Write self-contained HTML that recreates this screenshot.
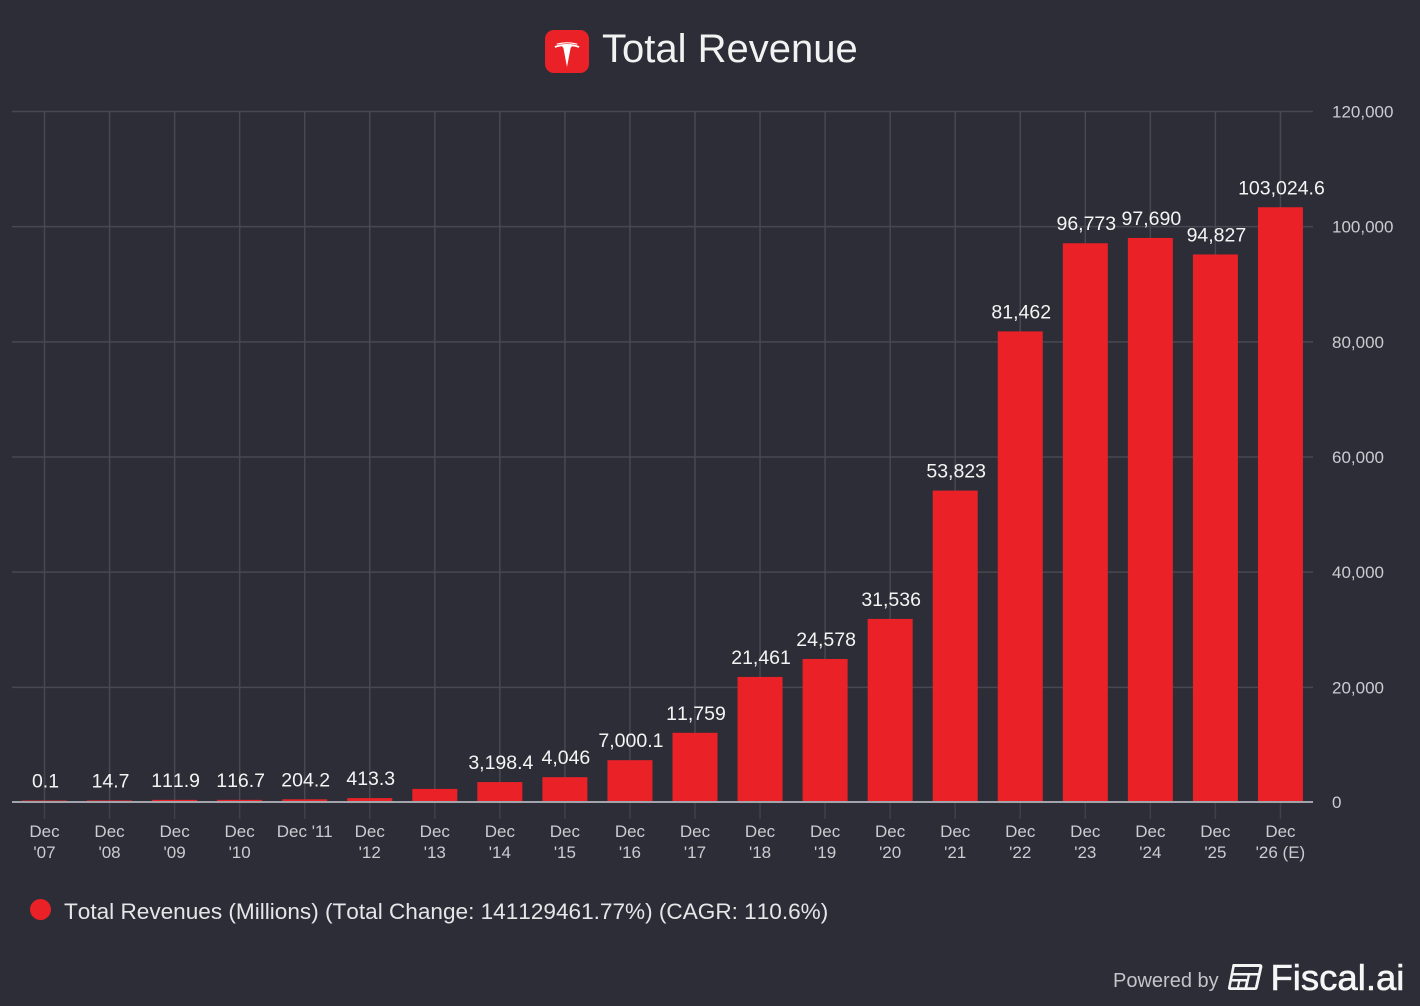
<!DOCTYPE html>
<html lang="en">
<head>
<meta charset="utf-8">
<title>Total Revenue</title>
<style>
html,body{margin:0;padding:0;width:1420px;height:1006px;background:#2c2d36;overflow:hidden}
svg{display:block;font-family:"Liberation Sans",Arial,sans-serif}
.nk{font-kerning:none}
</style>
</head>
<body>
<svg id="chart" width="1420" height="1006" viewBox="0 0 1420 1006" xmlns="http://www.w3.org/2000/svg">
  <rect width="1420" height="1006" fill="#2c2d36"/>
  <g>
    <rect x="545" y="30" width="44" height="43" rx="9" fill="#ea2227"/>
    <path d="M554.500 46.200c7-2.900 18-2.900 25 0l-.9 1.700c-2-1-4.200-1.500-6.600-1.700l-1.400 1.800-3.600 19-3.600-19-1.400-1.800c-2.400.2-4.600.7-6.600 1.700z" fill="#fff"/>
    <path d="M556.500 43.800c6.500-2.100 14.500-2.100 21 0l-.6.9c-6.200-1.700-13.600-1.700-19.800 0z" fill="#fff"/>
  </g>
  <text x="602" y="62" font-size="40" fill="#f2f2f2">Total Revenue</text>
  <g id="grid"></g>
  <g id="bars"></g>
  <line x1="12" x2="1313" y1="802" y2="802" stroke="#a3a3ab" stroke-width="2"/>
  <g id="value-labels"></g>
  <g id="y-ticks"></g>
  <g id="x-ticks"></g>
  <g>
    <circle cx="40.500" cy="909.500" r="10.500" fill="#ea2227"/>
    <text class="nk" x="64" y="919" font-size="22.580" fill="#e6e6e8">Total Revenues (Millions) (Total Change: 141129461.77%) (CAGR: 110.6%)</text>
  </g>
  <g>
    <text x="1113" y="987" font-size="20" fill="#c4c4c9">Powered by</text>
    <g>
      <path d="M1233 964h27a2.500 2.500 0 0 1 2.400 3l-4.600 20.500a3 3 0 0 1-3 2.500h-24.800a2 2 0 0 1-2-2.400l4.200-21.400a2.500 2.500 0 0 1 .8-2.200z" fill="#f4f4f4"/>
      <path d="M1234.700 967h24.600l-1.200 6h-24.600zM1233 975.500h14.500l-.6 3.500h-14.600zM1250 975.500h7.500l-2.600 11.700h-7.500zM1231.800 981.500h6.200l-1.100 5.700h-6.200zM1240.300 981.500h5.500l-1.200 5.700h-5.500z" fill="#2c2d36"/>
    </g>
    <text x="1270.500" y="990" font-size="36.500" fill="#f6f6f6" stroke="#f6f6f6" stroke-width="0.600">Fiscal.ai</text>
  </g>
</svg>
<script>
const categoryLine1 = ["Dec","Dec","Dec","Dec","Dec '11","Dec","Dec","Dec","Dec","Dec","Dec","Dec","Dec","Dec","Dec","Dec","Dec","Dec","Dec","Dec"];
const categoryLine2 = ["'07","'08","'09","'10","","'12","'13","'14","'15","'16","'17","'18","'19","'20","'21","'22","'23","'24","'25","'26 (E)"];
const revenueValues = [0.1,14.7,111.9,116.7,204.2,413.3,2013.5,3198.4,4046,7000.1,11759,21461,24578,31536,53823,81462,96773,97690,94827,103024.6];
const valueLabels = ["0.1","14.7","111.9","116.7","204.2","413.3","","3,198.4","4,046","7,000.1","11,759","21,461","24,578","31,536","53,823","81,462","96,773","97,690","94,827","103,024.6"];
const yTickValues = [0,20000,40000,60000,80000,100000,120000];
const yTickLabels = ["0","20,000","40,000","60,000","80,000","100,000","120,000"];

const SVG_NS = "http://www.w3.org/2000/svg";
const plot = {left:12, right:1313, top:111, bottom:802, firstX:44.5, step:65.05, barWidth:45, yMax:120000, barLift:1.5};
function xScale(i){ return plot.firstX + plot.step * i; }
function yScale(v){ return plot.bottom - (v / plot.yMax) * (plot.bottom - plot.top); }
function make(tag, attrs, parent, text){
  const el = document.createElementNS(SVG_NS, tag);
  for (const k in attrs) el.setAttribute(k, attrs[k]);
  if (text !== undefined) el.textContent = text;
  parent.appendChild(el);
  return el;
}
const gridG = document.getElementById("grid");
const barsG = document.getElementById("bars");
const valuesG = document.getElementById("value-labels");
const yG = document.getElementById("y-ticks");
const xG = document.getElementById("x-ticks");

yTickValues.forEach(function(v, i){
  const y = yScale(v) + (v === 0 ? 0 : 0.5);
  if (v !== 0) {
    const h = make("line", {x1:plot.left, x2:plot.right, y1:y, y2:y, stroke:"#474851", "stroke-width":1.500}, gridG);
    
    
  }
  const t = make("text", {x:1332, y:y + 6, "font-size":17, fill:"#cbcbd0"}, yG, yTickLabels[i]);
  
  
});

revenueValues.forEach(function(v, i){
  const cx = xScale(i);
  const g1 = make("line", {x1:cx, x2:cx, y1:plot.top, y2:plot.bottom, stroke:"#474851", "stroke-width":1.500}, gridG);
  
  
  const g2 = make("line", {x1:cx, x2:cx, y1:plot.bottom, y2:819, stroke:"#3f4048", "stroke-width":1.500}, gridG);
  
  

  const top = yScale(v) - plot.barLift;
  const barH = plot.bottom - top;
  const bar = make("rect", {x:cx - plot.barWidth / 2, y:top, width:plot.barWidth, height:barH, fill:"#ea2227"}, barsG);
  
  

  if (valueLabels[i]) {
    const lbl = make("text", {class:"nk", x:cx + 1, y:top - 13, "font-size":19.500, fill:"#f4f4f4", "text-anchor":"middle"}, valuesG, valueLabels[i]);
    
    
  }

  const l1 = make("text", {x:cx, y:837, "font-size":17, fill:"#cbcbd0", "text-anchor":"middle"}, xG, categoryLine1[i]);
  
  
  if (categoryLine2[i]) {
    const l2 = make("text", {x:cx, y:858, "font-size":17, fill:"#cbcbd0", "text-anchor":"middle"}, xG, categoryLine2[i]);
    
    
  }
});
</script>
</body>
</html>
